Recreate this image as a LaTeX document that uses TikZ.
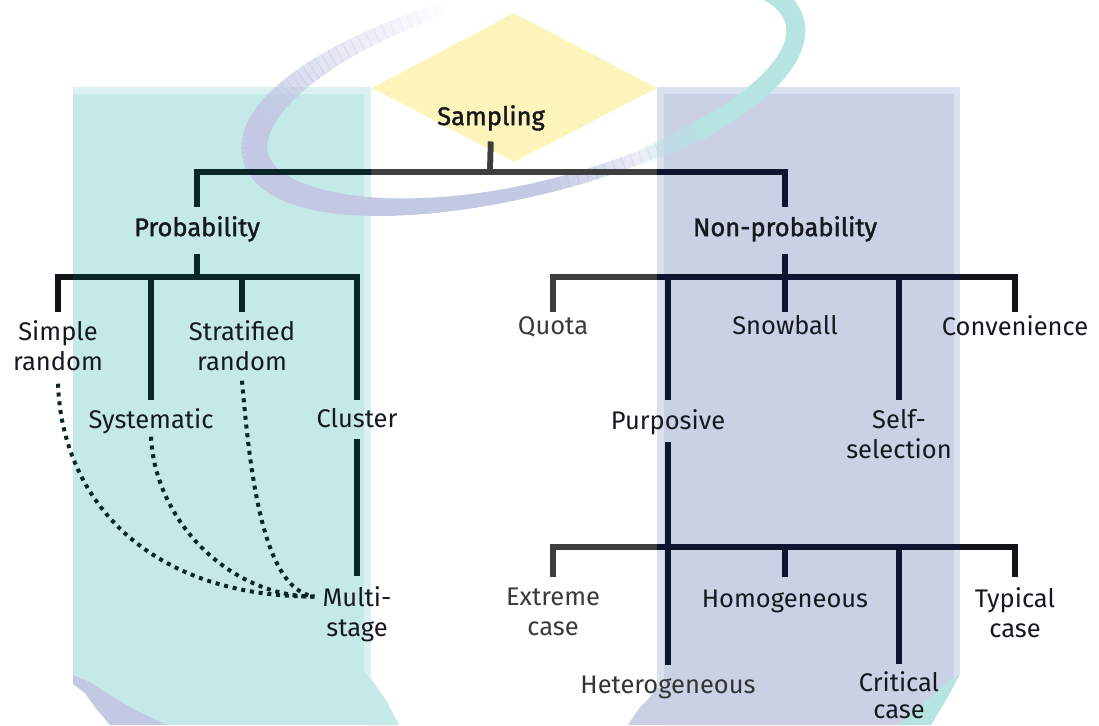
\documentclass[tikz,border=0pt]{standalone}
\usepackage{fontspec}
\setmainfont{Fira Sans}
\newfontfamily\labsemi[FakeBold=1.5]{Fira Sans}
\usetikzlibrary{calc}

\definecolor{tealbg}{HTML}{C5E9E8}
\definecolor{tealedge}{HTML}{D9F1F0}
\definecolor{lilacbg}{HTML}{CAD1E5}
\definecolor{lilacedge}{HTML}{DCE1EF}
\definecolor{diamondy}{HTML}{FDF4BC}
\definecolor{ringlilac}{HTML}{C3C8E3}
\definecolor{ringteal}{HTML}{B6E4E2}
\definecolor{inkdark}{HTML}{111417}
\definecolor{inkgrey}{HTML}{3E3E3E}
\definecolor{inkteal}{HTML}{0B2628}
\definecolor{inklilac}{HTML}{0D1530}
\definecolor{txtdark}{HTML}{15191D}
\definecolor{txtgrey}{HTML}{3A3A3A}

\tikzset{
  lab/.style={anchor=north, inner sep=0pt, align=center,
    font=\fontsize{25.5}{30}\selectfont, text=txtdark,
    execute at begin node={\vphantom{Al}},
    execute at end node={\vphantom{gy}}},
  head/.style={lab, font=\fontsize{25.5}{30}\selectfont\labsemi},
  tree/.style={line width=5.5pt, line join=miter, line cap=butt},
  dots/.style={line width=4pt, line cap=butt, dash pattern=on 4pt off 4.8pt, draw=inkteal},
}

% point of the swoosh ellipse at parameter angle #1, stored in \rx,\ry
\newcommand\ringpt[1]{%
  \pgfmathsetmacro\rx{525+278*cos(#1)*cos(14)-100*sin(#1)*sin(14)}%
  \pgfmathsetmacro\ry{89-278*cos(#1)*sin(14)-100*sin(#1)*cos(14)}%
}

% all bracket connectors of the classification tree
\newcommand\treelines{%
  \draw[tree, shorten <=11pt] (samp.south) -- (sj);
  \draw[tree, shorten <=9.5pt, shorten >=9.5pt] (prob.north) |- (sj) -| (nonp.north);
  \draw[tree, shorten <=12.5pt] (prob.south) -- (pj);
  \draw[tree, shorten <=8.5pt, shorten >=8pt] (simp.north) |- (pj) -| (clus.north);
  \draw[tree, shorten >=8pt] (syst.north |- pj) -- (syst.north);
  \draw[tree, shorten >=8.5pt] (strat.north |- pj) -- (strat.north);
  \draw[tree, shorten <=6pt, shorten >=10pt] (clus.south) -- (multi.north);
  \draw[tree, shorten <=12.5pt] (nonp.south) -- (nj);
  \draw[tree, shorten <=3.5pt, shorten >=3.5pt] (quota.north) |- (nj) -| (conv.north);
  \draw[tree, shorten >=3.5pt] (snow.north |- nj) -- (snow.north);
  \draw[tree, shorten >=9.5pt] (purp.north |- nj) -- (purp.north);
  \draw[tree, shorten >=9.5pt] (self.north |- nj) -- (self.north);
  \draw[tree, shorten <=7pt] (purp.south) -- (hj);
  \draw[tree, shorten <=11.5pt, shorten >=10.5pt] (extr.north) |- (hj) -| (typ.north);
  \draw[tree, shorten >=11.5pt] (homo.north |- hj) -- (homo.north);
  \draw[tree, shorten >=10pt] (het.north |- hj) -- (het.north);
  \draw[tree, shorten >=7pt] (crit.north |- hj) -- (crit.north);
}

\begin{document}
\begin{tikzpicture}[x=1pt, y=-1pt]
\useasboundingbox (0,0) rectangle (1099,725);
\clip (0,0) rectangle (1099,725);

% yellow diamond behind the root label
\fill[diamondy] (514,13) -- (657,88) -- (514,162) -- (372,88) -- cycle;

% two background panels
\fill[tealedge] (73,87) rectangle (371,725);
\fill[tealbg] (73,94) rectangle (364,725);
\fill[lilacedge] (657,87) rectangle (960,725);
\fill[lilacbg] (664,94) rectangle (954,725);

% lower swoosh pieces at the panel feet
\fill[white] (73,684) -- (85,693) -- (95,707) -- (110,725) -- (73,725) -- cycle;
\fill[ringlilac] (73,675) -- (90,682) -- (110,695) -- (135,710) -- (167,725) -- (110,725) -- (95,707) -- (85,693) -- (73,684) -- cycle;
\fill[tealbg] (364,672) -- (372,680) -- (386,700) -- (399,725) -- (364,725) -- cycle;
\fill[lilacbg] (657,688) -- (650,697) -- (640,707) -- (631,720) -- (628,725) -- (664,725) -- (664,688) -- cycle;
\fill[white] (960,674) -- (960,725) -- (931,725) -- (946,700) -- cycle;
\fill[ringteal] (960,674) -- (946,700) -- (931,725) -- (898,725) -- (923,703) -- (950,680) -- cycle;

% upper swoosh: tilted elliptic ring, lilac on the left ...
\foreach \t in {100,102,...,296}{
  \pgfmathsetmacro\op{min(1,max(0,(\t-100)/65))*min(1,max(0,(298-\t)/30))}
  \pgfmathsetmacro\w{13+13*pow(max(0,-cos(\t)),2)}
  \pgfmathsetmacro\tb{\t+2.3}
  \ringpt{\t}\let\xa\rx\let\ya\ry
  \ringpt{\tb}\let\xb\rx\let\yb\ry
  \draw[line width=\w pt, line cap=butt, draw=ringlilac, draw opacity=\op] (\xa,\ya) -- (\xb,\yb);
}
% ... and teal on the right: a fading tail, then the solid arc
\foreach \s in {0,2,...,16}{
  \pgfmathsetmacro\op{\s/18}
  \pgfmathsetmacro\ta{288+\s}
  \pgfmathsetmacro\tb{290.3+\s}
  \pgfmathsetmacro\w{14+8*cos(\ta)}
  \ringpt{\ta}\let\xa\rx\let\ya\ry
  \ringpt{\tb}\let\xb\rx\let\yb\ry
  \draw[line width=\w pt, line cap=butt, draw=ringteal, draw opacity=\op] (\xa,\ya) -- (\xb,\yb);
}
\draw[ringteal, line width=19pt, line cap=butt]
  plot[domain=305:400, samples=60, variable=\t]
  ({525+278*cos(\t)*cos(14)-100*sin(\t)*sin(14)}, {89-278*cos(\t)*sin(14)-100*sin(\t)*cos(14)});

% junctions of the brackets
\coordinate (sj) at (490,172);
\coordinate (pj) at (197,277);
\coordinate (nj) at (785,277);
\coordinate (hj) at (668,547);

% labels
\node[head] (samp) at (491,105) {Sampling};
\node[head] (prob) at (197,216) {Probability};
\node[head] (nonp) at (785,216) {Non-probability};

\node[lab] (simp)  at (58,320)  {Simple\\random};
\node[lab] (strat) at (242,320) {Stratified\\random};
\node[lab] (syst)  at (151,408) {Systematic};
\node[lab] (clus)  at (357,408) {Cluster};
\node[lab] (multi) at (357,586) {Multi-\\stage};

\node[lab, text=txtgrey] (quota) at (553,315) {Quota};
\node[lab] (snow) at (785,315)  {Snowball};
\node[lab] (conv) at (1015,315) {Convenience};
\node[lab] (purp) at (668,409.5) {Purposive};
\node[lab] (self) at (899,409.5) {Self-\\selection};

\node[lab, text=txtgrey] (extr) at (553,588) {Extreme\\case};
\node[lab] (homo) at (785,588)  {Homogeneous};
\node[lab] (typ)  at (1015,587) {Typical\\case};
\node[lab, text=txtgrey!80!txtdark] (het) at (668,674.5) {Heterogeneous};
\node[lab, font=\fontsize{25.5}{27}\selectfont, execute at end node={}] (crit) at (899,671) {Critical\\case};

% connectors, shaded by the band they cross
\begin{scope}[color=inkdark]\treelines\end{scope}
\begin{scope}[color=inkgrey]\clip (371,0) rectangle (657,725);\treelines\end{scope}
\begin{scope}[color=inkteal]\clip (73,87) rectangle (371,725);\treelines\end{scope}
\begin{scope}[color=inklilac]\clip (657,87) rectangle (960,725);\treelines\end{scope}

% dotted links into multi-stage sampling
\coordinate (mpin) at ($(multi.north west)!0.19!(multi.south west)+(-8,0)$);
\coordinate (s1) at ($(simp.south)+(0,8)$);
\coordinate (s2) at ($(syst.south)+(0,3)$);
\coordinate (s3) at ($(strat.south)+(0,5)$);
\draw[dots] (s1) .. controls ($(s1)+(4,118)$) and ($(mpin)+(-164,0)$) .. (mpin);
\draw[dots] (s2) .. controls ($(s2)+(4,85)$) and ($(mpin)+(-84,0)$) .. (mpin);
\draw[dots] (s3) .. controls ($(s3)+(8,91)$) and ($(mpin)+(-52,-7)$) .. (mpin);
\end{tikzpicture}
\end{document}
